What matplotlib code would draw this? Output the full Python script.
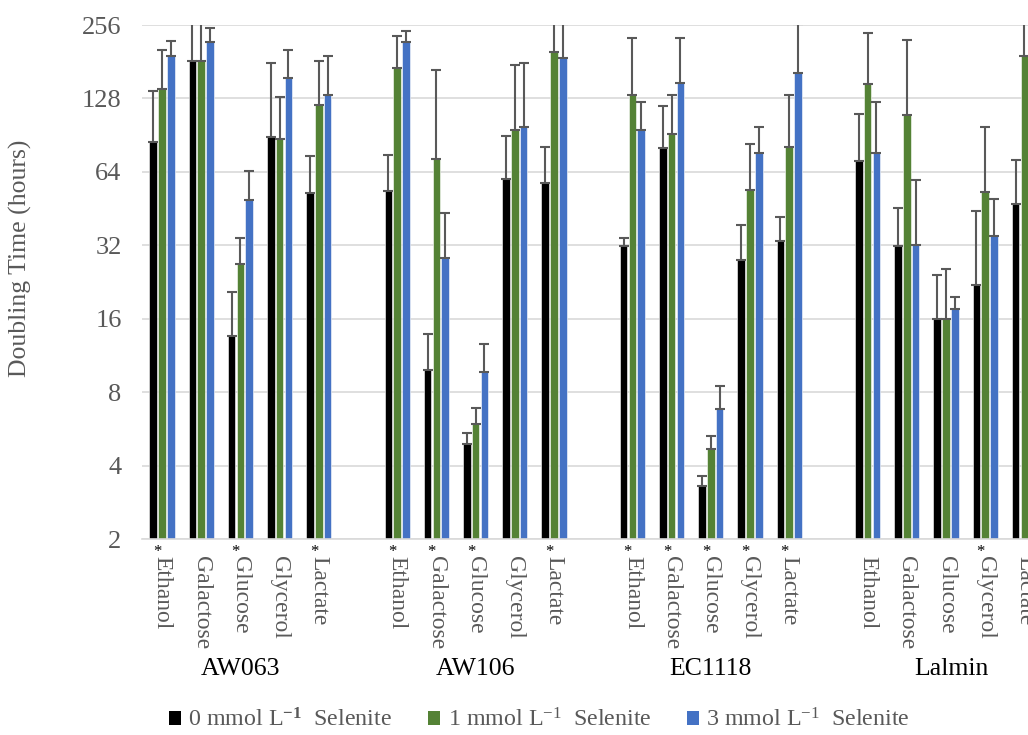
import numpy as np
import matplotlib
matplotlib.use('Agg')
import matplotlib.pyplot as plt
from matplotlib.patches import Patch

strains = ['AW063', 'AW106', 'EC1118', 'Lalmin']
carbons = ['Ethanol', 'Galactose', 'Glucose', 'Glycerol', 'Lactate']
series = ['0 mmol L$^{\\mathbf{-1}}$  Selenite',
          '1 mmol L$^{-1}$  Selenite',
          '3 mmol L$^{-1}$  Selenite']

# doubling time (hours), one row per strain, columns follow carbons
sel0 = [[84.8, 183, 13.6, 88.6, 52.6],
        [53.5, 9.84, 4.91, 59.8, 57.8],
        [31.7, 80.3, 3.30, 27.9, 33.2],
        [70.9, 31.7, 16.0, 21.9, 47.2]]
sel1 = [[140, 183, 26.7, 87.1, 120],
        [170, 72.0, 5.92, 94.9, 198],
        [131.8, 91.4, 4.67, 53.7, 80.9],
        [147, 109, 16.0, 52.7, 191]]
sel3 = [[191, 218, 49.3, 155, 132.7],
        [218, 28.5, 9.71, 98.1, 188],
        [94.6, 148.4, 6.83, 76.3, 162.6],
        [76.3, 32.0, 17.5, 35.0, 190]]

# top of the (upper-only) error bars
top0 = [[137.7, 281, 20.5, 178, 74.3],
        [75.3, 13.8, 5.46, 89.8, 80.9],
        [34.4, 119, 3.61, 38.7, 41.6],
        [110.5, 45.6, 24.2, 44.2, 71.8]]
top1 = [[203, 271, 34.4, 129.6, 182.5],
        [230.6, 167, 6.9, 175.3, 271],
        [226.8, 131.8, 5.29, 83.4, 131.8],
        [237.7, 221.5, 25.5, 98, 285]]
top3 = [[221, 248, 64.7, 203, 190.7],
        [241, 43.6, 12.6, 179, 259],
        [124, 226.8, 8.48, 98.1, 259],
        [124, 59.4, 19.7, 49.6, 260]]

# carbon sources marked with an asterisk
starred = [['Ethanol', 'Glucose', 'Lactate'],
           ['Ethanol', 'Galactose', 'Glucose', 'Lactate'],
           ['Ethanol', 'Galactose', 'Glucose', 'Glycerol', 'Lactate'],
           ['Glycerol']]

colors = ['#000000', '#548235', '#4472c4']
gray = '#595959'

plt.rcParams['font.family'] = ['Liberation Serif', 'DejaVu Serif']
plt.rcParams['mathtext.fontset'] = 'custom'
plt.rcParams['mathtext.rm'] = 'Liberation Serif'
plt.rcParams['mathtext.bf'] = 'Liberation Serif:bold'
plt.rcParams['mathtext.default'] = 'rm'

fig = plt.figure(figsize=(10.28, 7.35), dpi=100)
# axes runs past the right edge, as in the cropped original
ax = fig.add_axes([142.4 / 1028, 1 - 539 / 735, (1044 - 142.4) / 1028, 514 / 735])

n_c = len(carbons)
pos = []
for g in range(len(strains)):
    for j in range(n_c):
        pos.append(g * (n_c + 1) + j)
pos = np.array(pos)

width = 0.19
offset = 0.225
vals = [np.array(sel0).ravel(), np.array(sel1).ravel(), np.array(sel3).ravel()]
tops = [np.array(top0).ravel(), np.array(top1).ravel(), np.array(top3).ravel()]
for k in range(3):
    x = pos + (k - 1) * offset
    ax.bar(x, vals[k], width, color=colors[k], edgecolor='white', linewidth=0.4,
           zorder=2)
    up = tops[k] - vals[k]
    ax.errorbar(x, vals[k], yerr=[np.zeros_like(up), up], fmt='none',
                ecolor=gray, elinewidth=1.5, capsize=3.5, capthick=1.5, zorder=3)

ax.set_yscale('log', base=2)
ax.set_ylim(2, 256)
yt = [2, 4, 8, 16, 32, 64, 128, 256]
ax.set_yticks(yt)
ax.set_yticklabels([str(v) for v in yt])
ax.minorticks_off()
ax.set_xlim(-0.5, pos[-1] + 0.5)
ax.grid(axis='y', color='#d9d9d9', linewidth=1.2, zorder=0)
ax.set_axisbelow(True)
for s in ['top', 'right', 'left']:
    ax.spines[s].set_visible(False)
ax.spines['bottom'].set_color('#d9d9d9')
ax.spines['bottom'].set_linewidth(1.2)
ax.tick_params(axis='y', length=0, pad=15, labelsize=19, labelcolor=gray)
ax.tick_params(axis='x', length=0, pad=12, labelsize=17, labelcolor=gray)
ax.set_xticks(pos)
ax.set_xticklabels(carbons * len(strains), rotation=270, va='top', ha='center',
                   fontsize=17)

# asterisks and strain names
trans = ax.get_xaxis_transform()
for g, strain in enumerate(strains):
    for j, c in enumerate(carbons):
        if c in starred[g]:
            ax.text(g * (n_c + 1) + j - 0.12, -0.026, '*', transform=trans,
                    ha='center', va='center', fontsize=12, color='black')
    cx = g * (n_c + 1) + 2 + (0.15 if g == len(strains) - 1 else 0)
    ax.text(cx, -0.252, strain, transform=trans, ha='center', va='center',
            fontsize=18.5, color='black')

fig.text(20 / 1028, 1 - 258 / 735, 'Doubling Time (hours)', rotation=90,
         ha='center', va='center', fontsize=18.5, color=gray)

handles = [Patch(facecolor=c, edgecolor='none') for c in colors]
fig.legend(handles, series, loc='center', bbox_to_anchor=(0.525, 1 - 720 / 735),
           ncol=3, frameon=False, fontsize=17.3, labelcolor=gray,
           handlelength=0.5, handleheight=0.5, handletextpad=0.3,
           columnspacing=1.5)

fig.savefig('out.png', dpi=100)
